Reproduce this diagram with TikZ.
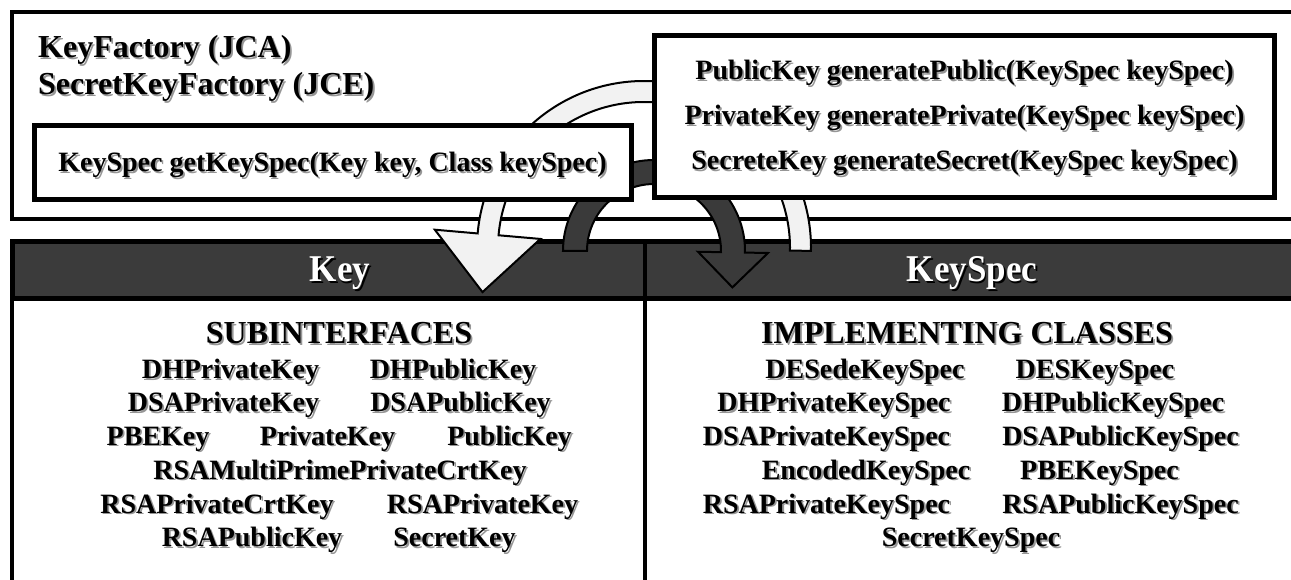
\documentclass[tikz,border=0pt]{standalone}
\usepackage{fontspec}
\setmainfont{Liberation Serif}
\definecolor{barfill}{RGB}{59,59,59}
\definecolor{lightband}{RGB}{242,242,242}
\definecolor{darkband}{RGB}{58,58,58}
\definecolor{shadowgray}{RGB}{150,150,150}
% text with a soft drop shadow down and to the right
\newcommand\shd[2][shadowgray]{\makebox[0pt][l]{\hspace*{1.8pt}\raisebox{-1.8pt}{\textcolor{#1}{#2}}}#2}
\begin{document}
\begin{tikzpicture}[x=1pt,y=-1pt,
  frame/.style={draw=black,line width=4pt},
  methodbox/.style={draw=black,line width=5pt,fill=white,inner sep=0pt},
  band/.style={draw=black,line width=2pt,line join=miter},
  txt/.style={font=\bfseries\fontsize{28}{34}\selectfont,inner sep=0pt,anchor=base},
  title/.style={font=\bfseries\fontsize{32}{38}\selectfont,inner sep=0pt,anchor=base},
  hdr/.style={font=\bfseries\fontsize{35}{42}\selectfont,inner sep=0pt,anchor=base,text=white},
]
\useasboundingbox (0,0) rectangle (1291,580);
\clip (0,0) rectangle (1291,580);

% factory panel, header bar and the two lower panels
\draw[frame,fill=white] (12,12) rectangle (1320,219);
\draw[line width=5pt,fill=barfill] (12,242) rectangle (1320,298.5);
\draw[frame,fill=white] (12,298.5) rectangle (1320,620);
\draw[line width=3.5pt] (645,242) -- (645,620);

% light arrow: KeySpec -> Key (generate methods)
\begin{scope}[shift={(644,248)}]
  \filldraw[band,fill=lightband]
    (1:167) arc[start angle=1,end angle=-175,radius=167]
    -- (-175:210) -- (-161.5,44.1) -- (-175:104) -- (-175:146)
    arc[start angle=-175,end angle=1,radius=146] -- cycle;
\end{scope}

% dark arrow: Key -> KeySpec (getKeySpec)
\begin{scope}[shift={(654,251)}]
  \filldraw[band,fill=darkband]
    (180:91) arc[start angle=180,end angle=361,radius=91]
    -- (361:114) -- (78.4,36.4) -- (361:44) -- (361:67)
    arc[start angle=361,end angle=180,radius=67] -- cycle;
\end{scope}

% method boxes
\node[methodbox,minimum width=597pt,minimum height=74pt] (gks) at (332.5,162.5) {};
\node[methodbox,minimum width=620pt,minimum height=162pt] (gen) at (964.5,116.5) {};

\node[txt] (gkstext) at (332.5,171.5) {\shd{KeySpec getKeySpec(Key key, Class keySpec)}};
\node[txt] (genpub) at (964.5,80) {\shd{PublicKey generatePublic(KeySpec keySpec)}};
\node[txt] (genpriv) at (964.5,125) {\shd{PrivateKey generatePrivate(KeySpec keySpec)}};
\node[txt] (gensec) at (964.5,170) {\shd{SecreteKey generateSecret(KeySpec keySpec)}};

% factory titles
\node[title,anchor=base west] (kf) at (38,58) {\shd{KeyFactory (JCA)}};
\node[title,anchor=base west] (skf) at (38,95) {\shd{SecretKeyFactory (JCE)}};

% bar headings
\node[hdr] (keyhdr) at (340,282) {\scalebox{1}[1.08]{\shd[black]{Key}}};
\node[hdr] (spechdr) at (972,282) {\scalebox{1}[1.08]{\shd[black]{KeySpec}}};

% section headings
\node[title] (subhdr) at (339,343.5) {\shd{SUBINTERFACES}};
\node[title] (implhdr) at (967,343.5) {\shd{IMPLEMENTING CLASSES}};

% Key subinterfaces
\foreach \t/\x/\r in {
  DHPrivateKey/230.5/378.5, DHPublicKey/453/378.5,
  DSAPrivateKey/223.5/411.5, DSAPublicKey/460.5/411.5,
  PBEKey/158/445, PrivateKey/327.5/445, PublicKey/509.5/445,
  RSAMultiPrimePrivateCrtKey/340/479,
  RSAPrivateCrtKey/217/513, RSAPrivateKey/482.5/513,
  RSAPublicKey/252/546.5, SecretKey/454.5/546.5}
  \node[txt] (k-\t) at (\x,\r) {\shd{\t}};

% KeySpec implementing classes
\foreach \t/\x/\r in {
  DESedeKeySpec/865/378.5, DESKeySpec/1095/378.5,
  DHPrivateKeySpec/834/411.5, DHPublicKeySpec/1113/411.5,
  DSAPrivateKeySpec/826.5/445, DSAPublicKeySpec/1120.5/445,
  EncodedKeySpec/866/479, PBEKeySpec/1099.5/479,
  RSAPrivateKeySpec/826.5/513, RSAPublicKeySpec/1120.5/513,
  SecretKeySpec/971/546.5}
  \node[txt] (s-\t) at (\x,\r) {\shd{\t}};
\end{tikzpicture}
\end{document}
